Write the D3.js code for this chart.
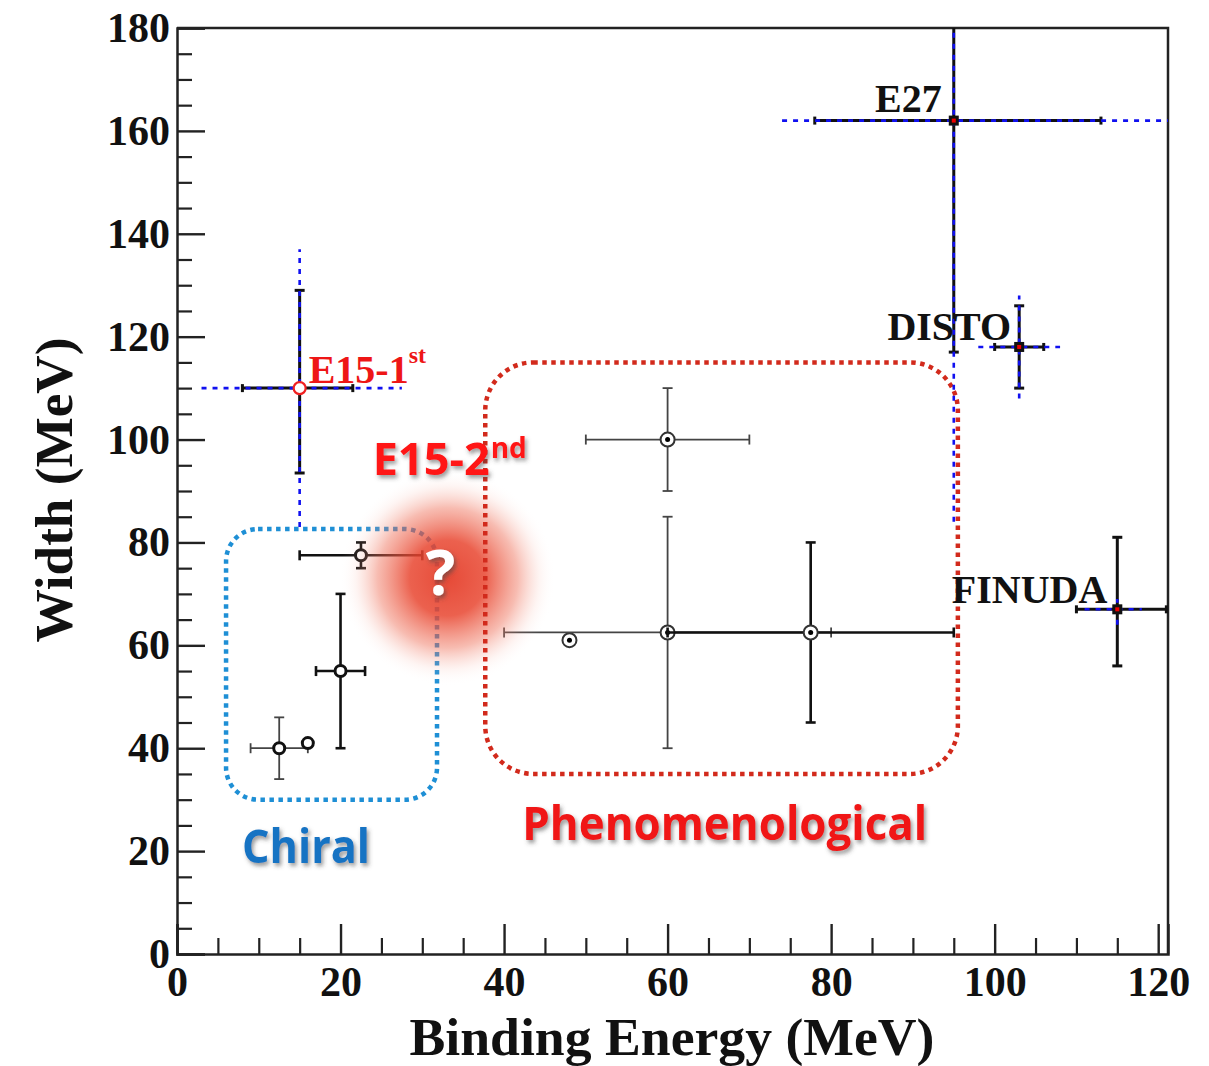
<!DOCTYPE html>
<html>
<head>
<meta charset="utf-8">
<script src="https://cdn.jsdelivr.net/npm/d3@7"></script>
<style>
  body { margin: 0; background: #fff; }
  svg { display: block; }
</style>
</head>
<body>
<svg id="chart"></svg>
<script>
// experiments: binding energy B and width W (MeV), errors as [minus, plus]
const expNames = ["E27", "DISTO", "FINUDA", "E15-1st"];
const expB = [95, 103, 115, 15];
const expW = [162, 118, 67, 110];
const expBStat = [[17, 18], [3, 3], [5, 6], [7, 6.5]];
const expBSyst = [[21, 30], [5, 5], [4, 3], [12, 12.5]];
const expWStat = [[45, 87], [8, 8], [11, 14], [16.5, 19]];
const expWSyst = [[78, 66], [10, 10], [3, 2], [27, 27]];

// theory predictions, ranges as [low, high] (null = single value)
const theoryGroup = ["chiral", "chiral", "chiral", "chiral", "phenom", "phenom", "phenom", "phenom"];
const theoryB = [12.5, 16, 20, 22.5, 48, 60, 60, 77.5];
const theoryW = [40, 41, 55, 77.5, 61, 100, 62.5, 62.5];
const theoryBRange = [[9, 16], null, [17, 23], [15, 30], null, [50, 70], [40, 80], [60, 95]];
const theoryWRange = [[34, 46], null, [40, 70], [75, 80], null, [90, 110], [40, 85], [45, 80]];

// theory regions drawn as dotted boxes
const regionNames = ["Chiral", "Phenomenological"];
const regionB = [[6, 31.8], [37.7, 95.5]];
const regionW = [[30, 82.6], [35, 115]];

// E15 second run: expected location (unknown)
const e15Second = { label: "E15-2", sup: "nd", b: 33.1, w: 73.1 };

const xTicks = [0, 20, 40, 60, 80, 100, 120];
const yTicks = [0, 20, 40, 60, 80, 100, 120, 140, 160, 180];

const width = 1209, height = 1066;
const svg = d3.select("#chart").attr("width", width).attr("height", height);

const x = d3.scaleLinear().domain([0, 121.2]).range([177, 1168]);
const y = d3.scaleLinear().domain([0, 180]).range([954, 28]);

const serif = '"Liberation Serif", "Times New Roman", serif';
const sans = '"Open Sans", "Noto Sans", sans-serif';

const defs = svg.append("defs");
defs.append("clipPath").attr("id", "plotclip")
  .append("rect").attr("x", 177).attr("y", 28).attr("width", 991).attr("height", 926);

const shadow = defs.append("filter").attr("id", "shadow")
  .attr("x", "-20%").attr("y", "-30%").attr("width", "140%").attr("height", "160%");
shadow.append("feDropShadow").attr("dx", 2).attr("dy", 3).attr("stdDeviation", 2)
  .attr("flood-color", "#444").attr("flood-opacity", 0.55);

const grad = defs.append("radialGradient").attr("id", "blob");
grad.append("stop").attr("offset", "0%").attr("stop-color", "#e43a26").attr("stop-opacity", 0.92);
grad.append("stop").attr("offset", "35%").attr("stop-color", "#e8452f").attr("stop-opacity", 0.85);
grad.append("stop").attr("offset", "65%").attr("stop-color", "#ee6a52").attr("stop-opacity", 0.45);
grad.append("stop").attr("offset", "85%").attr("stop-color", "#f6a898").attr("stop-opacity", 0.12);
grad.append("stop").attr("offset", "100%").attr("stop-color", "#fff").attr("stop-opacity", 0);

// ---- axes ----
const minorX = d3.range(0, 121, 5).filter(v => v % 20 !== 0);
const minorY = d3.range(0, 181, 5).filter(v => v % 20 !== 0);

svg.append("g").attr("transform", "translate(0,954)")
  .call(d3.axisBottom(x).tickValues(minorX).tickSize(-16).tickFormat(""))
  .call(g => g.select(".domain").remove())
  .selectAll("line").attr("stroke", "#222").attr("stroke-width", 2.2);

svg.append("g").attr("transform", "translate(177,0)")
  .call(d3.axisLeft(y).tickValues(minorY).tickSize(-15).tickFormat(""))
  .call(g => g.select(".domain").remove())
  .selectAll("line").attr("stroke", "#222").attr("stroke-width", 2.2);

const xAxis = svg.append("g").attr("transform", "translate(0,954)")
  .call(d3.axisBottom(x).tickValues(xTicks).tickSize(-30).tickPadding(12).tickFormat(d3.format("d")));
const yAxis = svg.append("g").attr("transform", "translate(177,0)")
  .call(d3.axisLeft(y).tickValues(yTicks).tickSize(-28).tickPadding(7).tickFormat(d3.format("d")));

[xAxis, yAxis].forEach(ax => {
  ax.select(".domain").attr("stroke", "#222").attr("stroke-width", 2.5);
  ax.selectAll(".tick line").attr("stroke", "#222").attr("stroke-width", 2.4);
  ax.selectAll("text").attr("fill", "#111").style("font-family", serif)
    .style("font-weight", "bold").style("font-size", "42px");
});

// frame top and right
svg.append("path")
  .attr("d", `M${x(0)},${y(180)}H${x(121.2)}V${y(0)}`)
  .attr("fill", "none").attr("stroke", "#222").attr("stroke-width", 2.5);

svg.append("text")
  .attr("x", 672).attr("y", 1055)
  .attr("text-anchor", "middle")
  .attr("textLength", 525).attr("lengthAdjust", "spacingAndGlyphs")
  .style("font-family", serif).style("font-weight", "bold").style("font-size", "52px")
  .attr("fill", "#111")
  .text("Binding Energy (MeV)");

svg.append("text")
  .attr("transform", "translate(72,490) rotate(-90)")
  .attr("text-anchor", "middle")
  .attr("textLength", 305).attr("lengthAdjust", "spacingAndGlyphs")
  .style("font-family", serif).style("font-weight", "bold").style("font-size", "52px")
  .attr("fill", "#111")
  .text("Width (MeV)");

const plot = svg.append("g").attr("clip-path", "url(#plotclip)");

// ---- theory points ----
const thinBars = new Set([0, 5, 6]);
theoryB.forEach(function (b, i) {
  const g = plot.append("g");
  const col = thinBars.has(i) ? "#444" : "#111";
  const sw = thinBars.has(i) ? 1.8 : 2.6;
  const cx = x(b), cy = y(theoryW[i]);
  if (theoryBRange[i]) {
    const [lo, hi] = theoryBRange[i];
    g.append("line").attr("x1", x(lo)).attr("x2", x(hi)).attr("y1", cy).attr("y2", cy)
      .attr("stroke", col).attr("stroke-width", sw);
    [lo, hi].forEach(v => g.append("line").attr("x1", x(v)).attr("x2", x(v))
      .attr("y1", cy - 5).attr("y2", cy + 5).attr("stroke", col).attr("stroke-width", sw));
  }
  if (theoryWRange[i]) {
    const [lo, hi] = theoryWRange[i];
    g.append("line").attr("x1", cx).attr("x2", cx).attr("y1", y(lo)).attr("y2", y(hi))
      .attr("stroke", col).attr("stroke-width", sw);
    [lo, hi].forEach(v => g.append("line").attr("x1", cx - 5).attr("x2", cx + 5)
      .attr("y1", y(v)).attr("y2", y(v)).attr("stroke", col).attr("stroke-width", sw));
  }
  if (theoryGroup[i] === "chiral") {
    g.append("circle").attr("cx", cx).attr("cy", cy).attr("r", 5.5)
      .attr("fill", "#fff").attr("stroke", "#111").attr("stroke-width", 3);
  } else {
    g.append("circle").attr("cx", cx).attr("cy", cy).attr("r", 7)
      .attr("fill", "#fff").attr("stroke", "#333").attr("stroke-width", 2);
    g.append("circle").attr("cx", cx).attr("cy", cy).attr("r", 2.5).attr("fill", "#000");
  }
});

// ---- chiral region box (under the blob) ----
const regionColor = ["#1e8fd5", "#d22a1c"];
const regionText = ["#1873c3", "#f01818"];
function regionBox(i, r) {
  plot.append("rect")
    .attr("x", x(regionB[i][0])).attr("y", y(regionW[i][1]))
    .attr("width", x(regionB[i][1]) - x(regionB[i][0]))
    .attr("height", y(regionW[i][0]) - y(regionW[i][1]))
    .attr("rx", r).attr("ry", r)
    .attr("fill", "none").attr("stroke", regionColor[i])
    .attr("stroke-width", 4.5).attr("stroke-dasharray", "4.5 4.5");
}
regionBox(0, 32);

// ---- E15 second-run blob ----
const bx = x(e15Second.b), by = y(e15Second.w);
plot.append("circle").attr("cx", bx).attr("cy", by).attr("r", 108).attr("fill", "url(#blob)");

regionBox(1, 48);

// ---- experiments ----
expB.forEach(function (b, i) {
  const g = plot.append("g");
  const cx = x(b), cy = y(expW[i]);
  const bs = expBStat[i], ws = expWStat[i];
  g.append("line").attr("x1", x(b - bs[0])).attr("x2", x(b + bs[1])).attr("y1", cy).attr("y2", cy)
    .attr("stroke", "#111").attr("stroke-width", 3);
  g.append("line").attr("x1", cx).attr("x2", cx).attr("y1", y(expW[i] - ws[0])).attr("y2", y(expW[i] + ws[1]))
    .attr("stroke", "#111").attr("stroke-width", 3);
  [b - bs[0], b + bs[1]].forEach(v => g.append("line").attr("x1", x(v)).attr("x2", x(v))
    .attr("y1", cy - 4).attr("y2", cy + 4).attr("stroke", "#111").attr("stroke-width", 3));
  [expW[i] - ws[0], expW[i] + ws[1]].forEach(v => g.append("line").attr("x1", cx - 5).attr("x2", cx + 5)
    .attr("y1", y(v)).attr("y2", y(v)).attr("stroke", "#111").attr("stroke-width", 3));

  const bsy = expBSyst[i], wsy = expWSyst[i];
  g.append("line").attr("x1", x(b - bsy[0])).attr("x2", x(b + bsy[1])).attr("y1", cy).attr("y2", cy)
    .attr("stroke", "#1010f0").attr("stroke-width", 2.6).attr("stroke-dasharray", "5 6");
  g.append("line").attr("x1", cx).attr("x2", cx).attr("y1", y(expW[i] - wsy[0])).attr("y2", y(expW[i] + wsy[1]))
    .attr("stroke", "#1010f0").attr("stroke-width", 2.6).attr("stroke-dasharray", "5 6");

  if (expNames[i] === "E15-1st") {
    g.append("circle").attr("cx", cx).attr("cy", cy).attr("r", 6)
      .attr("fill", "#fff").attr("stroke", "#f02020").attr("stroke-width", 2.2);
  } else {
    g.append("rect").attr("x", cx - 5).attr("y", cy - 5).attr("width", 10).attr("height", 10).attr("fill", "#111");
    g.append("rect").attr("x", cx - 2).attr("y", cy - 2).attr("width", 4).attr("height", 4).attr("fill", "#e00");
  }
});

// ---- labels ----
const labelOffset = [[-12, -9], [-8, -7], [-10, -6]];
expNames.slice(0, 3).forEach(function (name, i) {
  svg.append("text")
    .attr("x", x(expB[i]) + labelOffset[i][0]).attr("y", y(expW[i]) + labelOffset[i][1])
    .attr("text-anchor", "end")
    .style("font-family", serif).style("font-weight", "bold").style("font-size", "40px")
    .attr("fill", "#111").text(name);
});

const e15lab = svg.append("text")
  .attr("x", x(expB[3]) + 9).attr("y", y(expW[3]) - 5)
  .style("font-family", serif).style("font-weight", "bold").style("font-size", "40px")
  .attr("fill", "#ee1616");
e15lab.append("tspan").text("E15-1");
e15lab.append("tspan").attr("dy", -20).style("font-size", "24px").text("st");

svg.append("text")
  .attr("x", bx - 75).attr("y", by - 103)
  .attr("textLength", 117).attr("lengthAdjust", "spacingAndGlyphs")
  .attr("filter", "url(#shadow)")
  .style("font-family", sans).style("font-weight", "bold").style("font-size", "45px")
  .attr("fill", "#ff1212").text(e15Second.label);
svg.append("text")
  .attr("x", bx + 43).attr("y", by - 120)
  .attr("filter", "url(#shadow)")
  .style("font-family", sans).style("font-weight", "bold").style("font-size", "28px")
  .attr("fill", "#ff1212").text(e15Second.sup);

svg.append("text")
  .attr("x", bx - 7).attr("y", by + 17)
  .attr("text-anchor", "middle")
  .attr("filter", "url(#shadow)")
  .style("font-family", sans).style("font-weight", "bold").style("font-size", "62px")
  .attr("fill", "#fff").text("?");

const regionLabelOffset = [[16, 63, 128], [37, 66, 405]];
regionNames.forEach(function (name, i) {
  svg.append("text")
    .attr("x", x(regionB[i][0]) + regionLabelOffset[i][0])
    .attr("y", y(regionW[i][0]) + regionLabelOffset[i][1])
    .attr("textLength", regionLabelOffset[i][2]).attr("lengthAdjust", "spacingAndGlyphs")
    .attr("filter", "url(#shadow)")
    .style("font-family", sans).style("font-weight", "bold").style("font-size", "46px")
    .attr("fill", regionText[i]).text(name);
});
</script>
</body>
</html>
